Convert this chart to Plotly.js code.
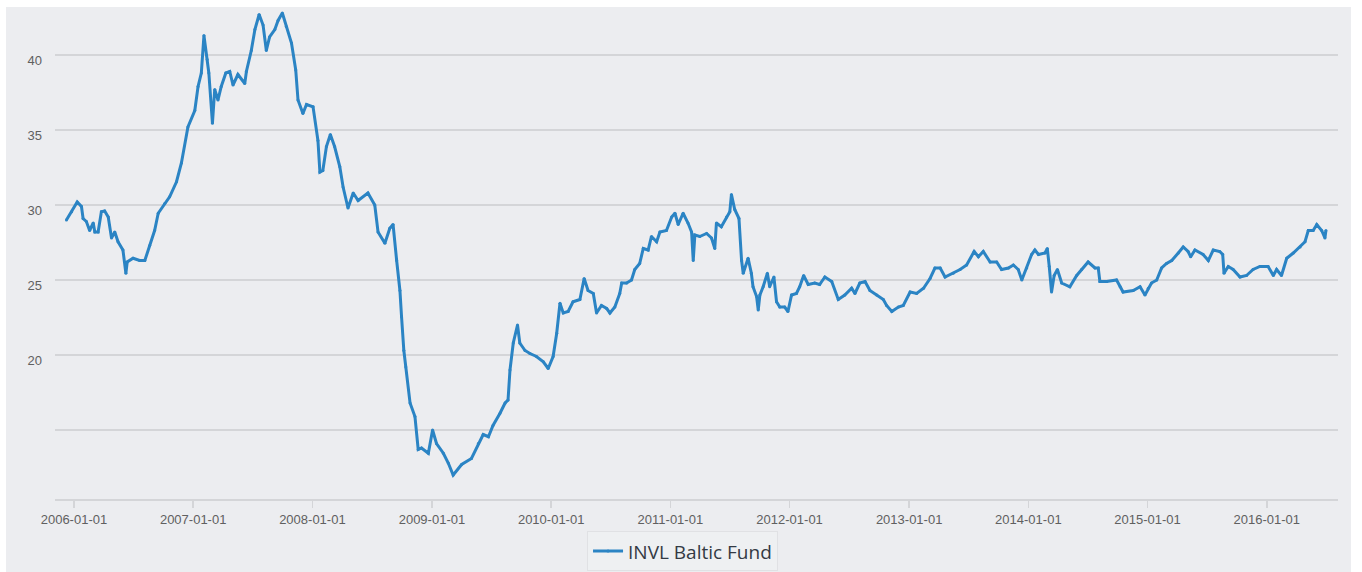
<!DOCTYPE html>
<html>
<head>
<meta charset="utf-8">
<script src="https://cdn.plot.ly/plotly-3.0.1.min.js"></script>
<style>
html,body{margin:0;padding:0;background:#ffffff;}
#chart{position:absolute;left:6px;top:7px;width:1345px;height:565px;}
</style>
</head>
<body>
<div id="chart"></div>
<script>
// Time as decimal years
const yearFrac = [
2005.939,2005.981,2006.028,2006.065,2006.078,2006.106,2006.134,2006.162,2006.176,2006.204,
2006.232,2006.260,2006.288,2006.316,2006.344,2006.371,2006.413,2006.436,2006.447,2006.497,
2006.553,2006.595,2006.637,2006.679,2006.707,2006.763,2006.805,2006.861,2006.903,2006.958,
2007.014,2007.042,2007.071,2007.092,2007.118,2007.134,2007.163,2007.182,2007.210,2007.238,
2007.274,2007.308,2007.336,2007.378,2007.434,2007.448,2007.490,2007.518,2007.554,2007.587,
2007.616,2007.643,2007.685,2007.713,2007.750,2007.783,2007.825,2007.861,2007.881,2007.922,
2007.951,2008.006,2008.048,2008.063,2008.090,2008.119,2008.152,2008.188,2008.230,2008.258,
2008.300,2008.342,2008.384,2008.467,2008.524,2008.551,2008.607,2008.649,2008.677,2008.706,
2008.733,2008.747,2008.767,2008.784,2008.817,2008.859,2008.887,2008.915,2008.970,2009.007,
2009.041,2009.096,2009.138,2009.180,2009.250,2009.334,2009.390,2009.432,2009.474,2009.515,
2009.572,2009.614,2009.641,2009.655,2009.683,2009.720,2009.739,2009.781,2009.823,2009.879,
2009.935,2009.977,2010.018,2010.047,2010.075,2010.102,2010.144,2010.186,2010.242,2010.278,
2010.312,2010.354,2010.382,2010.424,2010.466,2010.494,2010.536,2010.578,2010.592,2010.634,
2010.676,2010.703,2010.745,2010.773,2010.815,2010.843,2010.885,2010.913,2010.969,2011.011,
2011.039,2011.066,2011.108,2011.150,2011.179,2011.192,2011.206,2011.248,2011.305,2011.347,
2011.374,2011.388,2011.430,2011.472,2011.500,2011.514,2011.542,2011.578,2011.598,2011.611,
2011.653,2011.682,2011.695,2011.724,2011.737,2011.751,2011.779,2011.816,2011.835,2011.869,
2011.891,2011.919,2011.961,2011.989,2012.017,2012.059,2012.087,2012.120,2012.156,2012.213,
2012.254,2012.296,2012.353,2012.408,2012.464,2012.520,2012.548,2012.590,2012.632,2012.674,
2012.730,2012.785,2012.814,2012.856,2012.911,2012.953,2013.009,2013.065,2013.121,2013.177,
2013.219,2013.261,2013.303,2013.372,2013.428,2013.484,2013.546,2013.582,2013.624,2013.680,
2013.736,2013.778,2013.833,2013.875,2013.917,2013.946,2013.987,2014.029,2014.057,2014.085,
2014.141,2014.160,2014.177,2014.197,2014.219,2014.244,2014.281,2014.350,2014.407,2014.449,
2014.504,2014.560,2014.588,2014.602,2014.658,2014.742,2014.770,2014.797,2014.881,2014.937,
2014.979,2015.007,2015.035,2015.077,2015.119,2015.161,2015.203,2015.258,2015.300,2015.342,
2015.362,2015.398,2015.468,2015.510,2015.552,2015.608,2015.631,2015.642,2015.678,2015.720,
2015.776,2015.832,2015.887,2015.943,2016.013,2016.055,2016.083,2016.125,2016.167,2016.223,
2016.279,2016.321,2016.348,2016.390,2016.419,2016.461,2016.488,2016.497
];
// Fund value
const fundValues = [
29.0,29.55,30.2,29.9,29.1,28.9,28.3,28.8,28.2,28.2,
29.55,29.6,29.2,27.8,28.2,27.55,27.0,25.45,26.2,26.45,
26.3,26.3,27.3,28.3,29.45,30.1,30.55,31.55,32.8,35.2,
36.3,37.9,38.8,41.3,39.7,38.8,35.45,37.7,37.0,37.9,
38.8,38.9,38.0,38.7,38.1,38.9,40.3,41.7,42.7,42.0,
40.3,41.2,41.7,42.3,42.8,41.9,40.8,39.0,37.0,36.1,
36.7,36.55,34.3,32.2,32.3,33.9,34.7,33.9,32.55,31.2,
29.8,30.8,30.3,30.8,30.0,28.2,27.45,28.45,28.7,26.3,
24.3,22.55,20.3,19.2,16.8,15.9,13.7,13.8,13.45,15.0,
14.1,13.45,12.8,12.0,12.7,13.1,14.1,14.7,14.55,15.3,
16.1,16.8,17.0,19.0,20.8,22.0,20.8,20.3,20.1,19.9,
19.55,19.1,19.9,21.45,23.45,22.8,22.9,23.55,23.7,25.1,
24.3,24.1,22.8,23.3,23.1,22.8,23.2,24.1,24.8,24.8,
25.0,25.7,26.1,27.1,27.0,27.9,27.55,28.2,28.3,29.2,
29.45,28.7,29.45,28.8,28.2,26.3,28.0,27.9,28.1,27.8,
27.1,28.8,28.55,29.2,29.55,30.7,29.7,29.1,26.3,25.45,
26.45,25.45,24.55,23.9,23.0,24.0,24.55,25.45,24.55,25.2,
23.55,23.2,23.2,22.9,24.0,24.1,24.55,25.3,24.7,24.8,
24.7,25.2,24.9,23.7,24.0,24.45,24.1,24.8,24.9,24.3,
24.0,23.7,23.3,22.9,23.2,23.3,24.2,24.1,24.45,25.1,
25.8,25.8,25.2,25.45,25.7,26.0,26.9,26.55,26.9,26.2,
26.2,25.7,25.8,26.0,25.7,25.0,25.8,26.7,27.0,26.7,
26.8,27.1,25.9,24.2,25.3,25.7,24.8,24.55,25.3,25.7,
26.2,25.8,25.8,24.9,24.9,25.0,24.55,24.2,24.3,24.55,
24.0,24.45,24.8,25.0,25.8,26.1,26.3,26.8,27.2,26.9,
26.55,27.0,26.7,26.3,27.0,26.9,26.7,25.45,25.9,25.7,
25.2,25.3,25.7,25.9,25.9,25.3,25.7,25.3,26.45,26.8,
27.2,27.55,28.3,28.3,28.7,28.3,27.8,28.3
];
const seriesName = 'INVL Baltic Fund';
const yTickVals = [15, 20, 25, 30, 35, 40];
const yTickText = ['', '20', '25', '30', '35', '40'];

function toDate(y) {
  const yr = Math.floor(y);
  const s = Date.UTC(yr, 0, 1), e = Date.UTC(yr + 1, 0, 1);
  return new Date(s + (y - yr) * (e - s)).toISOString().slice(0, 10);
}
const dates = yearFrac.map(toDate);

const trace = {
  x: dates, y: fundValues, type: 'scatter', mode: 'lines+markers',
  name: seriesName,
  line: {color: '#2b84c4', width: 3},
  marker: {color: '#2b84c4', size: 3},
  hoverinfo: 'x+y'
};

const layout = {
  width: 1345, height: 565,
  paper_bgcolor: '#ecedf0', plot_bgcolor: '#ecedf0',
  margin: {l: 49, r: 13, t: 3, b: 73, autoexpand: false},
  font: {family: 'Liberation Sans, Arial, sans-serif', color: '#606060', size: 13},
  xaxis: {
    type: 'date',
    range: ['2005-11-04', '2016-08-06'],
    tick0: '2006-01-01', dtick: 'M12', tickformat: '%Y-%m-%d',
    showgrid: false, zeroline: false,
    showline: true, linecolor: '#d4d5d8', linewidth: 2,
    ticks: 'outside', ticklen: 7, tickwidth: 1.5, tickcolor: '#d4d5d8',
    tickfont: {size: 13, color: '#606060'}
  },
  yaxis: {
    range: [10.4, 43],
    tickvals: yTickVals, ticktext: yTickText,
    showgrid: true, gridcolor: '#d4d5d8', gridwidth: 2,
    zeroline: false, showline: false, ticks: '',
    ticklabelstandoff: 12, ticklabelshift: 5,
    tickfont: {size: 13, color: '#606060'}
  },
  showlegend: true,
  legend: {
    orientation: 'h', xref: 'container', x: 0.503, xanchor: 'center',
    y: -0.066, yanchor: 'top',
    bgcolor: '#eef0f2', bordercolor: '#e0e1e4', borderwidth: 1,
    font: {family: 'Open Sans, sans-serif', size: 19, color: '#333a44'},
    itemwidth: 30
  }
};

Plotly.newPlot('chart', [trace], layout, {staticPlot: true, displayModeBar: false});
</script>
</body>
</html>
